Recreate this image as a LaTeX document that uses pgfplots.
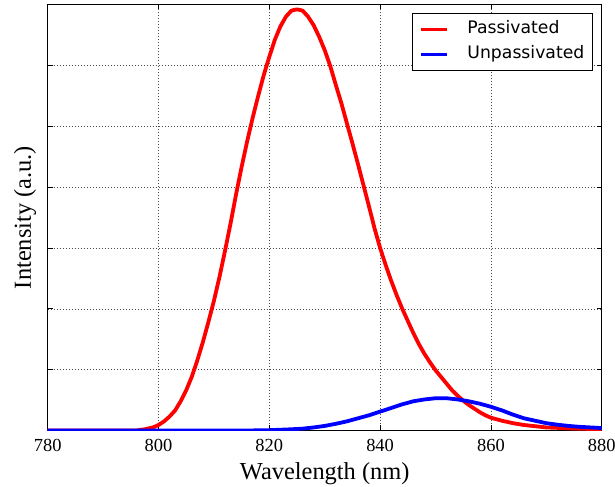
\documentclass[border=0pt]{standalone}
\usepackage{pgfplots}
\pgfplotsset{compat=1.18}
\usepackage{fontspec}
\setmainfont{Liberation Serif}
\newfontfamily\legfont{DejaVu Sans}
\begin{document}
\begin{tikzpicture}
\begin{axis}[
  name=ax,
  scale only axis,
  width=554bp, height=426bp,
  xmin=780, xmax=880, ymin=0, ymax=7,
  xtick={780,800,...,880},
  ytick={0,1,...,7},
  yticklabels={},
  tick align=inside,
  major tick length=5bp,
  tick style={black, line width=0.6bp},
  axis line style={black, line width=1bp},
  grid=major,
  major grid style={black!70, line width=0.5bp, dash pattern=on 1bp off 2bp},
  /pgf/number format/assume math mode=true,
  /pgf/number format/1000 sep={},
  xticklabel={\fontsize{18.5}{20}\selectfont\pgfmathprintnumber{\tick}},
  x tick label style={anchor=north, inner sep=0pt, yshift=-8.2bp},
  xlabel={Wavelength (nm)},
  ylabel={Intensity (a.u.)},
  label style={font=\fontsize{24.5}{26}\selectfont},
  xlabel style={at={(axis description cs:0.5,-0.1157)}, anchor=base, inner sep=0pt},
  ylabel style={at={(axis description cs:-0.041,0.5)}, anchor=center, inner sep=0pt},
  legend style={
    at={(axis description cs:1,1)}, anchor=north east,
    xshift=-9bp, yshift=-8.8bp,
    draw=black, line width=0.8bp,
    font=\legfont\fontsize{17.3}{19}\selectfont,
    inner xsep=6bp, inner ysep=5.3bp, row sep=4bp,
    nodes={inner sep=2bp, text height=13bp, text depth=4bp},
    /tikz/every odd column/.append style={column sep=16.4bp},
  },
  legend cell align=left,
  legend image code/.code={\draw[#1, line width=3.8bp] (5.7bp,0bp) -- (32.3bp,0bp);},
]
\addplot[red, line width=3.8bp, line join=round] coordinates {
(780,0) (796,0) (797.5,0.02) (799,0.05) (800,0.09) (801,0.15) (802,0.23) (803,0.33)
(804,0.48) (805,0.66) (806,0.88) (807,1.15) (808,1.45) (809,1.78) (810,2.13) (811,2.52)
(812,2.95) (813,3.4) (814,3.88) (815,4.33) (816,4.75) (817,5.14) (818,5.5) (819,5.84)
(820,6.14) (821,6.42) (822,6.64) (823,6.8) (824,6.9) (825,6.92) (826,6.9) (827,6.8)
(828,6.66) (829,6.47) (830,6.25) (831,5.99) (832,5.68) (833,5.38) (834,5.05) (835,4.72)
(836,4.38) (837,4.03) (838,3.68) (839,3.32) (840,3.0) (841,2.72) (842,2.46) (843,2.22)
(844,2.0) (845,1.8) (846,1.6) (847,1.42) (848,1.26) (849,1.12) (850,0.99) (851,0.88)
(852,0.77) (853,0.66) (854,0.57) (855,0.49) (856,0.42) (857,0.36) (858,0.3) (859,0.25)
(860,0.21) (862,0.16) (864,0.12) (866,0.09) (868,0.07) (870,0.05) (873,0.04) (876,0.03) (880,0.02)
};
\addlegendentry{Passivated}
\addplot[blue, line width=3.8bp, line join=round] coordinates {
(780,0) (816,0) (820,0.005) (824,0.02) (826,0.03) (828,0.05) (830,0.075) (832,0.11)
(834,0.15) (836,0.2) (838,0.25) (840,0.31) (842,0.37) (844,0.43) (846,0.48) (848,0.51)
(850,0.53) (852,0.53) (854,0.51) (856,0.48) (858,0.44) (860,0.39) (862,0.33) (864,0.26)
(866,0.2) (868,0.16) (870,0.12) (872,0.095) (874,0.075) (876,0.06) (878,0.05) (880,0.04)
};
\addlegendentry{Unpassivated}
\end{axis}
\pgfresetboundingbox
\path ([xshift=-47.7bp,yshift=-56.3bp]ax.south west) rectangle ([xshift=13.3bp,yshift=4.5bp]ax.north east);
\end{tikzpicture}
\end{document}
